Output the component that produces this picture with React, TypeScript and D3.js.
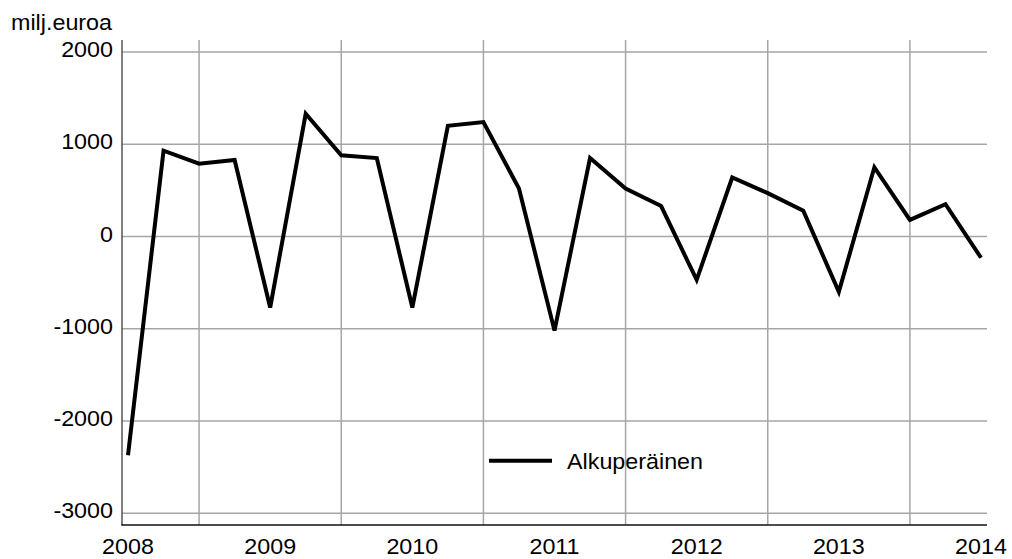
import * as d3 from "d3";
import { useRef, useEffect } from "react";

// quarterly values, 2008Q1 .. 2014Q1 (milj. euroa)
const quarters = [
  "2008Q1", "2008Q2", "2008Q3", "2008Q4",
  "2009Q1", "2009Q2", "2009Q3", "2009Q4",
  "2010Q1", "2010Q2", "2010Q3", "2010Q4",
  "2011Q1", "2011Q2", "2011Q3", "2011Q4",
  "2012Q1", "2012Q2", "2012Q3", "2012Q4",
  "2013Q1", "2013Q2", "2013Q3", "2013Q4",
  "2014Q1",
];
const alkuperainen = [
  -2370, 930, 790, 830,
  -770, 1330, 880, 850,
  -770, 1200, 1240, 520,
  -1020, 850, 520, 330,
  -470, 640, 470, 280,
  -600, 750, 180, 350,
  -230,
];
const yearLabels = ["2008", "2009", "2010", "2011", "2012", "2013", "2014"];
const yTicks = [-3000, -2000, -1000, 0, 1000, 2000];
const seriesName = "Alkuperäinen";
const unitLabel = "milj.euroa";

const width = 1012;
const height = 559;
const axisLeft = 122;
const axisRight = 987;
const plotTop = 40;
const axisBottom = 525;
const font = "'Liberation Sans', Arial, sans-serif";
const fontSize = 22;
const stretch = 1.06; // the original text is a touch wider than regular Arial

export default function App() {
  const svgRef = useRef<SVGSVGElement>(null);

  useEffect(() => {
    const svg = d3.select(svgRef.current);
    svg.selectAll("*").remove();

    const x = d3.scaleLinear().domain([0, quarters.length - 1]).range([128, 981]);
    const y = d3.scaleLinear().domain([-3000, 2000]).range([513.3, 52]);

    const grid = svg.append("g");
    // horizontal grid lines
    grid
      .selectAll(".y-grid")
      .data(yTicks)
      .join("line")
      .attr("x1", axisLeft)
      .attr("x2", axisRight)
      .attr("y1", (d) => y(d))
      .attr("y2", (d) => y(d))
      .attr("stroke", "#a6a6a6")
      .attr("stroke-width", 1.5);

    // vertical grid lines sit between the year labels (mid-year)
    const midYears = d3.range(2, quarters.length - 1, 4);
    grid
      .selectAll(".x-grid")
      .data(midYears)
      .join("line")
      .attr("x1", (d) => x(d))
      .attr("x2", (d) => x(d))
      .attr("y1", plotTop)
      .attr("y2", axisBottom)
      .attr("stroke", "#a6a6a6")
      .attr("stroke-width", 1.5);

    // axes lines
    svg
      .append("line")
      .attr("x1", axisLeft)
      .attr("x2", axisLeft)
      .attr("y1", plotTop)
      .attr("y2", axisBottom)
      .attr("stroke", "#555")
      .attr("stroke-width", 1.5);
    svg
      .append("line")
      .attr("x1", axisLeft - 0.75)
      .attr("x2", axisRight)
      .attr("y1", axisBottom)
      .attr("y2", axisBottom)
      .attr("stroke", "#111")
      .attr("stroke-width", 1.5);

    const addText = (
      tx: number,
      ty: number,
      txt: string,
      anchor: string
    ) =>
      svg
        .append("text")
        .attr("transform", `translate(${tx},${ty}) scale(${stretch},1)`)
        .attr("text-anchor", anchor)
        .attr("font-family", font)
        .attr("font-size", fontSize)
        .attr("fill", "#000")
        .text(txt);

    yTicks.forEach((t) => addText(113, y(t) + 5, String(t), "end"));
    yearLabels.forEach((lab, i) => addText(x(i * 4), 554, lab, "middle"));
    addText(11, 30, unitLabel, "start");

    // series line
    const line = d3
      .line<number>()
      .x((_, i) => x(i))
      .y((d) => y(d));
    svg
      .append("path")
      .datum(alkuperainen)
      .attr("fill", "none")
      .attr("stroke", "#000")
      .attr("stroke-width", 4)
      .attr("stroke-linejoin", "miter")
      .attr("d", line);

    // legend
    svg
      .append("line")
      .attr("x1", 489)
      .attr("x2", 552)
      .attr("y1", 460.7)
      .attr("y2", 460.7)
      .attr("stroke", "#000")
      .attr("stroke-width", 4);
    addText(567, 469, seriesName, "start");
  }, []);

  return (
    <svg
      ref={svgRef}
      width={width}
      height={height}
      style={{ position: "absolute", left: 0, top: 0, background: "#fff" }}
    />
  );
}
